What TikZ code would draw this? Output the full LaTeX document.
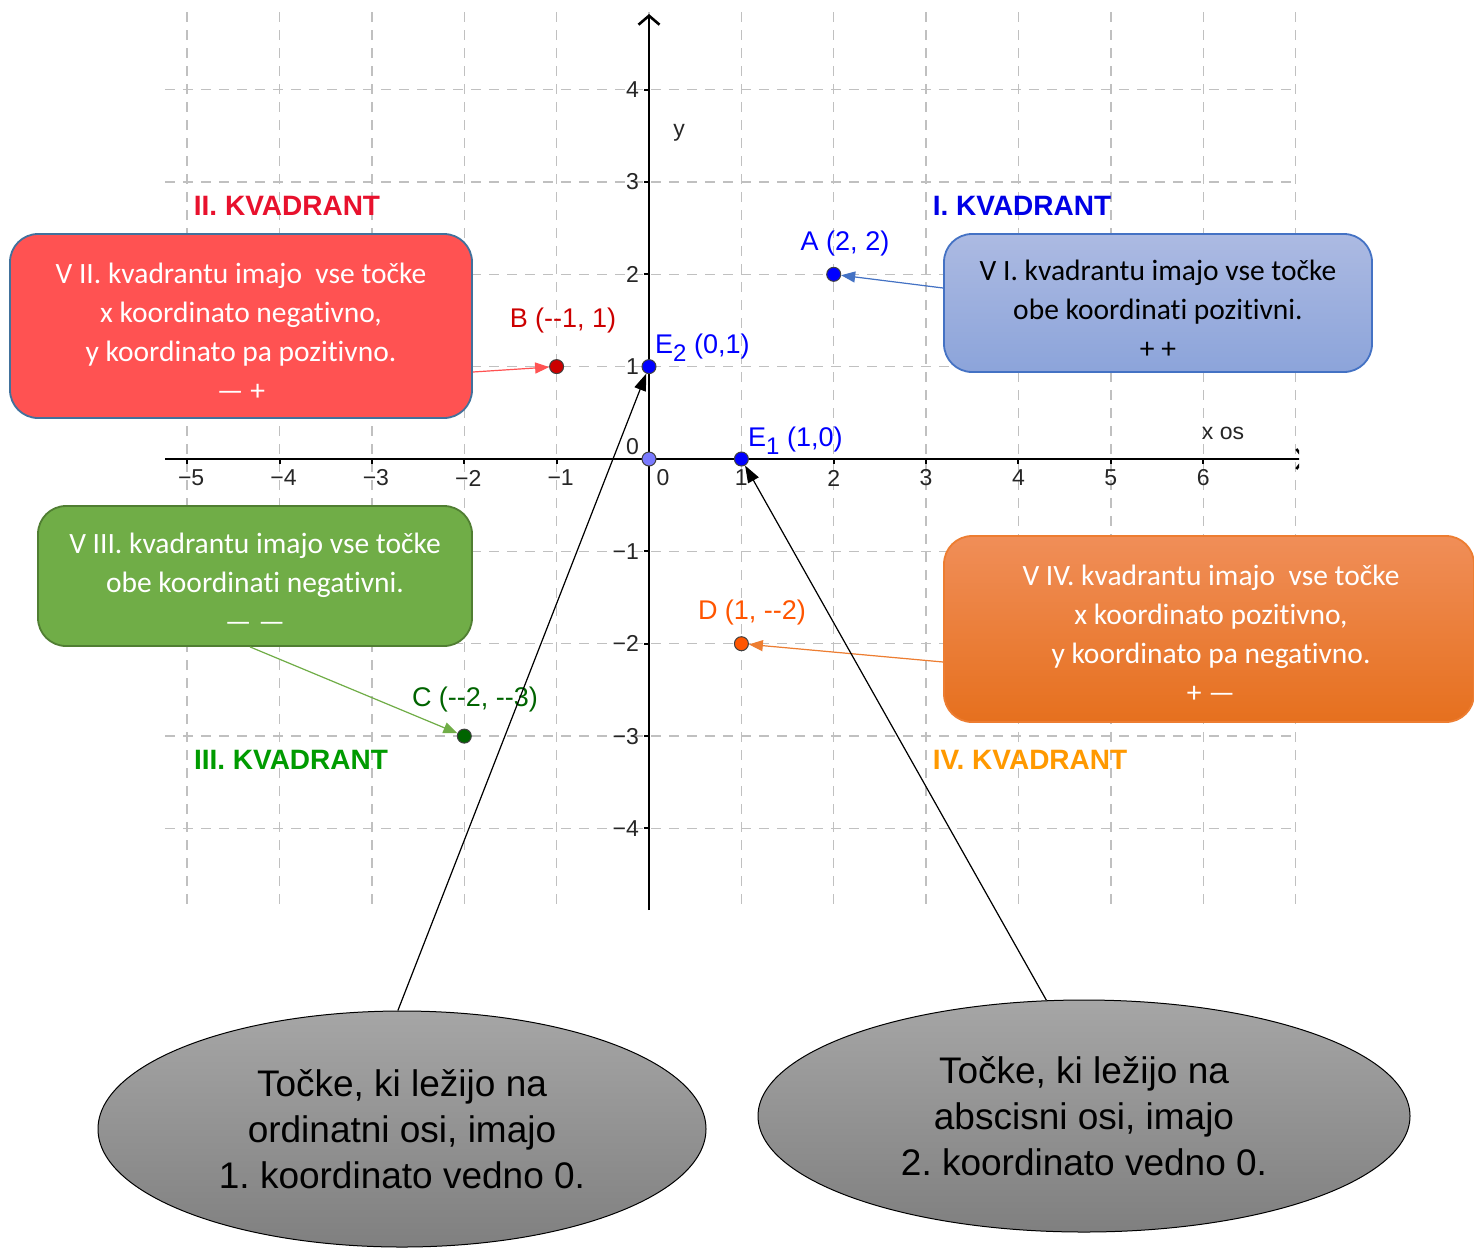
\documentclass[tikz,border=0pt]{standalone}
\usepackage{fontspec}
\setmainfont{Liberation Sans}
\newfontfamily\calib[Ligatures=NoCommon]{Carlito}
\frenchspacing
\usetikzlibrary{shapes.geometric,arrows.meta,calc}
\definecolor{gridgray}{RGB}{192,192,192}
\definecolor{ptblue}{RGB}{0,0,255}
\definecolor{ptred}{RGB}{204,0,0}
\definecolor{ptgreen}{RGB}{0,100,0}
\definecolor{ptorange}{RGB}{255,85,0}
\definecolor{ptorigin}{RGB}{122,122,255}
\definecolor{qred}{RGB}{232,17,45}
\definecolor{qblue}{RGB}{0,0,230}
\definecolor{qgreen}{RGB}{0,155,0}
\definecolor{qorange}{RGB}{255,153,0}
\definecolor{boxred}{RGB}{255,82,82}
\definecolor{boxredline}{RGB}{65,113,156}
\definecolor{boxbluetop}{RGB}{172,186,226}
\definecolor{boxbluebot}{RGB}{140,164,218}
\definecolor{boxblueline}{RGB}{68,114,196}
\definecolor{boxgreen}{RGB}{112,173,71}
\definecolor{boxgreenline}{RGB}{80,126,50}
\definecolor{boxorangetop}{RGB}{240,142,88}
\definecolor{boxorangebot}{RGB}{230,112,30}
\definecolor{boxorangeline}{RGB}{237,125,49}
\begin{document}
\begin{tikzpicture}[x=1pt,y=-1pt,
  gridline/.style={draw=gridgray,line width=1.4pt,dash pattern=on 10pt off 8pt},
  axisline/.style={draw=black,line width=2.6pt},
  ticklab/.style={font=\fontsize{23}{23}\selectfont,text=black!85,inner sep=0pt},
  pt/.style={circle,inner sep=0pt,minimum size=14pt,draw=black!75,line width=1pt},
  ptlab/.style={font=\fontsize{27}{27}\selectfont,inner sep=0pt},
  quad/.style={font=\fontsize{28}{28}\selectfont\bfseries,inner sep=0pt},
  callout/.style={rectangle,rounded corners=28pt,line width=1.8pt},
  callouttext/.style={align=center,font=\calib\fontsize{29.5}{39}\selectfont,inner sep=0pt},
  bubble/.style={ellipse,draw=black,line width=1pt,top color=black!35,bottom color=black!50,
    align=center,font=\fontsize{37}{46}\selectfont,inner sep=0pt},
  carrow/.style={line width=1.2pt,-{Triangle[length=14pt,width=11pt]}},
  barrow/.style={line width=1.2pt,draw=black,-{Triangle[length=17pt,width=12pt]}}
]
\useasboundingbox (0,0) rectangle (1474,1251);
\fill[white] (0,0) rectangle (1474,1251);

% grid
\foreach \k in {-5,...,7} \draw[gridline] ({649+92.37*\k},12) -- ({649+92.37*\k},910);
\foreach \j in {-4,...,4} \draw[gridline] (165,{459-92.37*\j}) -- (1297,{459-92.37*\j});

% axes
\begin{scope}
  \clip (0,0) rectangle (1299,1251);
  \draw[axisline,-{Straight Barb[length=8pt,width=20pt]}] (165,459) -- (1306,459);
\end{scope}
\draw[axisline,-{Straight Barb[length=9pt,width=21pt]}] (649,910) -- (649,14);
\foreach \k in {-5,-4,-3,-2,-1,1,2,3,4,5,6} \draw[line width=2pt] ({649+92.37*\k},459) -- ++(0,5);
\foreach \j in {-4,-3,-2,-1,1,2,3,4} \draw[line width=2pt] (649,{459-92.37*\j}) -- ++(-5,0);

% tick labels
\foreach \k/\t in {-5/−5,-4/−4,-3/−3,-2/−2,-1/−1}
  \node[ticklab] (xl\k) at ({649+92.37*\k+4},478) {\t};
\foreach \k in {1,...,6}
  \node[ticklab] (xl\k) at ({649+92.37*\k},478) {\k};
\node[ticklab] (xl0) at (663,478) {0};
\foreach \j/\t in {4/4,3/3,2/2,1/1,-1/−1,-2/−2,-3/−3,-4/−4}
  \node[ticklab,anchor=east] (yl\j) at (639,{459-92.37*\j}) {\t};
\node[ticklab,anchor=east] (yl0) at (639,447) {0};
\node[ticklab] (ylab) at (679,133) {y};
\node[ticklab] (xlab) at (1223,433) {x os};

% quadrant titles
\node[quad,text=qred] (q2) at (287,206) {II. KVADRANT};
\node[quad,text=qblue] (q1) at (1022,206) {I. KVADRANT};
\node[quad,text=qgreen] (q3) at (291,760) {III. KVADRANT};
\node[quad,text=qorange] (q4) at (1030,760) {IV. KVADRANT};

% callout boxes
\node[callout,fill=boxred,draw=boxredline,minimum width=462pt,minimum height=184pt] (redbox) at (241,326) {};
\node[callouttext,text=white] (redtxt) at (241,332)
  {V II. kvadrantu imajo \ vse točke\\x koordinato negativno,\\y koordinato pa pozitivno.\\— +};
\node[callout,top color=boxbluetop,bottom color=boxbluebot,draw=boxblueline,minimum width=428pt,minimum height=138pt] (bluebox) at (1158,303) {};
\node[callouttext,text=black] (bluetxt) at (1158,309)
  {V I. kvadrantu imajo vse točke\\obe koordinati pozitivni.\\+ +};
\node[callout,fill=boxgreen,draw=boxgreenline,minimum width=434pt,minimum height=140pt] (greenbox) at (255,576) {};
\node[callouttext,text=white] (greentxt) at (255,582)
  {V III. kvadrantu imajo vse točke\\obe koordinati negativni.\\— —};
\node[callout,top color=boxorangetop,bottom color=boxorangebot,draw=boxorangeline,minimum width=530pt,minimum height=186pt] (orangebox) at (1209,629) {};
\node[callouttext,text=white] (orangetxt) at (1211,634)
  {V IV. kvadrantu imajo \ vse točke\\x koordinato pozitivno,\\y koordinato pa negativno.\\+ —};

% points
\node[pt,fill=ptorigin] (O) at (649,459) {};
\node[pt,fill=ptblue] (E1) at (741.4,459) {};
\node[pt,fill=ptblue] (E2) at (649,366.6) {};
\node[pt,fill=ptblue] (A) at (833.7,274.3) {};
\node[pt,fill=ptred] (B) at (556.6,366.6) {};
\node[pt,fill=ptgreen] (C) at (464.3,736.1) {};
\node[pt,fill=ptorange] (D) at (741.4,643.7) {};

% point labels
\node[ptlab,text=ptblue] (Alab) at (845,244) {A (2, 2)};
\node[ptlab,text=ptred] (Blab) at (563,321) {B (-{}-1, 1)};
\node[ptlab,text=ptgreen] (Clab) at (475,699) {C (-{}-2, -{}-3)};
\node[ptlab,text=ptorange] (Dlab) at (752,612) {D (1, -{}-2)};
\node[ptlab,text=ptblue,anchor=base west] (E2lab) at (655,353)
  {E\raisebox{-0.33em}{\fontsize{24}{24}\selectfont 2} (0,1)};
\node[ptlab,text=ptblue,anchor=base west] (E1lab) at (748,446)
  {E\raisebox{-0.33em}{\fontsize{24}{24}\selectfont 1} (1,0)};

% callout arrows
\draw[carrow,draw=boxred,fill=boxred] ($(redbox.east)+(0,46)$) -- (B);
\draw[carrow,draw=boxblueline,fill=boxblueline] ($(bluebox.west)+(0,-15)$) -- (A);
\draw[carrow,draw=boxgreen,fill=boxgreen] ($(greenbox.south)+(-5,0)$) -- (C);
\draw[carrow,draw=boxorangeline,fill=boxorangeline] ($(orangebox.west)+(0,33)$) -- (D);

% bubbles
\node[bubble,minimum width=608pt,minimum height=236pt] (ell1) at (402,1129)
  {Točke, ki ležijo na\\ordinatni osi, imajo\\1. koordinato vedno 0.};
\node[bubble,minimum width=652pt,minimum height=232pt] (ell2) at (1084,1116)
  {Točke, ki ležijo na\\abscisni osi, imajo\\2. koordinato vedno 0.};

\draw[barrow,fill=black] (ell1.92) -- (E2);
\draw[barrow,fill=black] (ell2.108) -- (E1);
\end{tikzpicture}
\end{document}
